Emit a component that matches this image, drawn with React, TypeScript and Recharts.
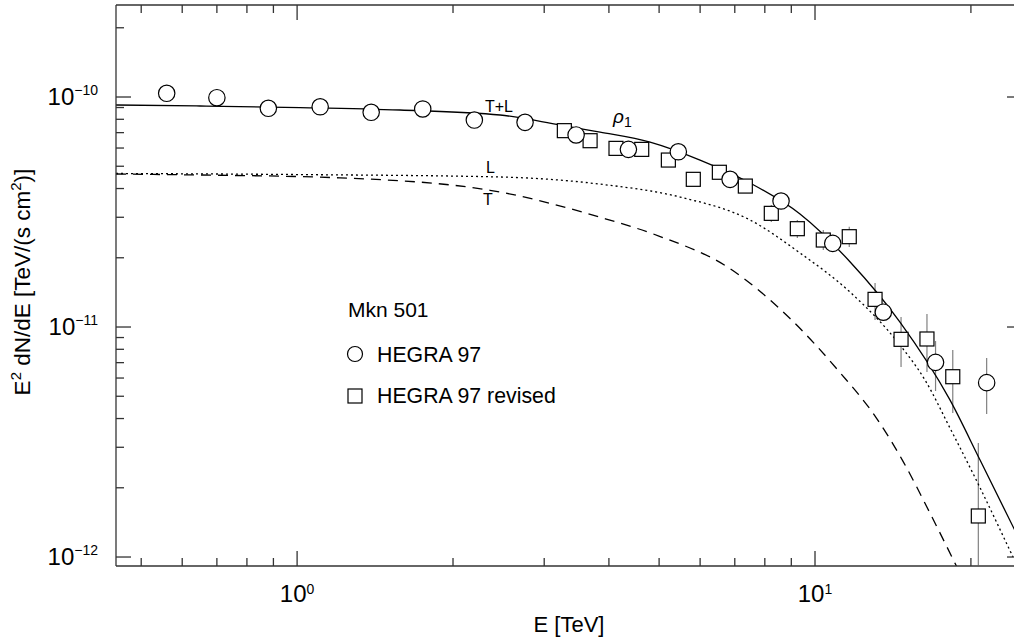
import React from 'react';
import { ComposedChart, XAxis, YAxis, Line, Scatter, ErrorBar } from 'recharts';

// HEGRA 97 (open circles)
const hegraE = [0.56, 0.7, 0.88, 1.108, 1.39, 1.748, 2.199, 2.755, 3.457, 4.362, 5.446, 6.855, 8.598, 10.82, 13.55, 17.09, 21.45];
const hegraF = [1.038e-10, 0.993e-10, 0.893e-10, 0.907e-10, 0.858e-10, 0.887e-10, 0.794e-10, 0.776e-10, 0.684e-10, 0.592e-10, 0.578e-10, 0.4386e-10, 0.353e-10, 0.231e-10, 1.16e-11, 7.02e-12, 5.73e-12];
const hegraLo = [null, null, null, null, null, null, null, null, null, null, null, null, null, null, null, 5.27e-12, 4.19e-12];
const hegraHi = [null, null, null, null, null, null, null, null, null, null, null, null, null, null, null, 8.69e-12, 7.33e-12];

// HEGRA 97 revised (open squares)
const revE = [3.281, 3.679, 4.128, 4.628, 5.21, 5.821, 6.536, 7.336, 8.234, 9.244, 10.375, 11.645, 13.06, 14.66, 16.45, 18.45, 20.67];
const revF = [0.714e-10, 0.6457e-10, 0.598e-10, 0.592e-10, 0.532e-10, 0.4386e-10, 0.4707e-10, 0.41e-10, 0.312e-10, 0.2676e-10, 0.2389e-10, 0.247e-10, 1.319e-11, 8.84e-12, 8.87e-12, 6.08e-12, 1.508e-12];
const revLo = [null, null, null, null, null, null, null, null, 2.86e-11, 2.44e-11, 2.16e-11, 2.23e-11, 1.073e-11, 6.7e-12, 6.37e-12, 4.23e-12, 9.2e-13];
const revHi = [null, null, null, null, null, null, null, null, 3.39e-11, 2.92e-11, 2.64e-11, 2.73e-11, 1.553e-11, 1.105e-11, 1.139e-11, 7.94e-12, 3.13e-12];

// model curves
const tlE = [0.447, 0.65, 1.013, 1.58, 2.466, 3.22, 3.846, 4.803, 5.998, 7.49, 9.355, 11.68, 14.59, 18.22, 20.83, 25.1];
const tlF = [0.923e-10, 0.914e-10, 0.9e-10, 0.878e-10, 0.835e-10, 0.755e-10, 0.704e-10, 0.637e-10, 0.532e-10, 0.4228e-10, 0.31e-10, 0.1923e-10, 1.051e-11, 4.82e-12, 2.64e-12, 1.13e-12];

const lE = [0.447, 1.013, 2.466, 3.846, 5.49, 7.49, 9.355, 11.68, 14.59, 16.31, 18.22, 20.83, 24.11];
const lF = [0.465e-10, 0.46e-10, 0.449e-10, 0.418e-10, 0.3673e-10, 0.292e-10, 0.2098e-10, 1.42e-11, 8.35e-12, 5.88e-12, 3.64e-12, 2.0e-12, 1.0e-12];

const tE = [0.447, 0.65, 1.211, 2.358, 3.846, 5.01, 6.76, 8.94, 11.14, 13.15, 14.8, 16.67, 18.78];
const tF = [0.4626e-10, 0.458e-10, 0.445e-10, 0.393e-10, 0.3e-10, 0.248e-10, 0.183e-10, 1.091e-11, 6.39e-12, 4.01e-12, 2.6e-12, 1.553e-12, 9.07e-13];

const xTicks = [0.5, 0.6, 0.7, 0.8, 0.9, 1, 2, 3, 4, 5, 6, 7, 8, 9, 10, 20];
const yTicks = [
  1e-12, 2e-12, 3e-12, 4e-12, 5e-12, 6e-12, 7e-12, 8e-12, 9e-12,
  1e-11, 2e-11, 3e-11, 4e-11, 5e-11, 6e-11, 7e-11, 8e-11, 9e-11,
  1e-10, 2e-10,
];

const X_DOMAIN = [0.447, 25.1];
const Y_DOMAIN = [9.14e-13, 2.512e-10];

const FONT = '"Liberation Sans", Arial, Helvetica, sans-serif';
const AXIS = '#333';

const pts = (e: number[], f: number[], lo?: (number | null)[], hi?: (number | null)[]) =>
  e.map((v, i) => ({
    e: v,
    f: f[i],
    err: [lo && lo[i] != null ? f[i] - (lo[i] as number) : 0, hi && hi[i] != null ? (hi[i] as number) - f[i] : 0],
  }));

const hegraData = pts(hegraE, hegraF, hegraLo, hegraHi);
const revData = pts(revE, revF, revLo, revHi);
const tlData = pts(tlE, tlF);
const lData = pts(lE, lF);
const tData = pts(tE, tF);

const isDecade = (v: number) => Math.abs(Math.log10(v) - Math.round(Math.log10(v))) < 1e-6;
const expText = (v: number) => String(Math.round(Math.log10(v))).replace('-', '\u2212');

const BottomTick = (props: any) => {
  const { x, y, payload } = props;
  const major = isDecade(payload.value);
  return (
    <g>
      <line x1={x} x2={x} y1={y} y2={y - (major ? 15 : 8)} stroke={AXIS} strokeWidth={1.3} />
      {major && (
        <text x={x} y={y + 36} textAnchor="middle" fontSize={24} fontFamily={FONT} fill="#000">
          10<tspan fontSize={14} dy={-8}>{expText(payload.value)}</tspan>
        </text>
      )}
    </g>
  );
};

const TopTick = (props: any) => {
  const { x, y, payload } = props;
  const major = isDecade(payload.value);
  return <line x1={x} x2={x} y1={y} y2={y + (major ? 15 : 8)} stroke={AXIS} strokeWidth={1.3} />;
};

const LeftTick = (props: any) => {
  const { x, y, payload } = props;
  const major = isDecade(payload.value);
  return (
    <g>
      <line x1={x} x2={x + (major ? 15 : 8)} y1={y} y2={y} stroke={AXIS} strokeWidth={1.3} />
      {major && (
        <text x={x - 18} y={y + 8} textAnchor="end" fontSize={24} fontFamily={FONT} fill="#000">
          10<tspan fontSize={14} dy={-10}>{expText(payload.value)}</tspan>
        </text>
      )}
    </g>
  );
};

const RightTick = (props: any) => {
  const { x, y, payload } = props;
  const major = isDecade(payload.value);
  return <line x1={x} x2={x - (major ? 15 : 8)} y1={y} y2={y} stroke={AXIS} strokeWidth={1.3} />;
};

const Circ = (p: any) => <circle cx={p.cx} cy={p.cy} r={8.2} fill="#fff" stroke="#000" strokeWidth={1.2} />;
const Sq = (p: any) => <rect x={p.cx - 7} y={p.cy - 7} width={14} height={14} fill="#fff" stroke="#000" strokeWidth={1.2} />;

export default function App() {
  return (
    <div style={{ position: 'absolute', left: 0, top: 0, width: 1014, height: 638, overflow: 'hidden', background: '#fff' }}>
      <ComposedChart width={1023} height={638} margin={{ top: 4, right: 0, bottom: 0, left: 0 }} style={{ fontFamily: FONT }}>
        <XAxis
          dataKey="e"
          type="number"
          scale="log"
          domain={X_DOMAIN}
          allowDataOverflow
          ticks={xTicks}
          interval={0}
          height={72}
          tickSize={0}
          tickMargin={0}
          tickLine={false}
          tick={<BottomTick />}
          axisLine={{ stroke: AXIS, strokeWidth: 1.3 }}
        />
        <XAxis
          xAxisId="top"
          orientation="top"
          dataKey="e"
          type="number"
          scale="log"
          domain={X_DOMAIN}
          allowDataOverflow
          ticks={xTicks}
          interval={0}
          height={1}
          tickSize={0}
          tickMargin={0}
          tickLine={false}
          tick={<TopTick />}
          axisLine={{ stroke: AXIS, strokeWidth: 1.3 }}
        />
        <YAxis
          dataKey="f"
          type="number"
          scale="log"
          domain={Y_DOMAIN}
          allowDataOverflow
          ticks={yTicks}
          interval={0}
          width={116}
          tickSize={0}
          tickMargin={0}
          tickLine={false}
          tick={<LeftTick />}
          axisLine={{ stroke: AXIS, strokeWidth: 1.3 }}
        />
        <YAxis
          yAxisId="right"
          orientation="right"
          type="number"
          scale="log"
          domain={Y_DOMAIN}
          allowDataOverflow
          ticks={yTicks}
          interval={0}
          width={1}
          tickSize={0}
          tickMargin={0}
          tickLine={false}
          tick={<RightTick />}
          axisLine={{ stroke: AXIS, strokeWidth: 1.3 }}
        />

        <Scatter data={revData} dataKey="f" shape={<Sq />} isAnimationActive={false}>
          <ErrorBar dataKey="err" direction="y" width={0} stroke="#808080" strokeWidth={1.2} />
        </Scatter>
        <Scatter data={hegraData} dataKey="f" shape={<Circ />} isAnimationActive={false}>
          <ErrorBar dataKey="err" direction="y" width={0} stroke="#808080" strokeWidth={1.2} />
        </Scatter>

        <Line data={tlData} dataKey="f" type="monotone" stroke="#000" strokeWidth={1.3} dot={false} isAnimationActive={false} />
        <Line data={lData} dataKey="f" type="monotone" stroke="#000" strokeWidth={1.3} strokeDasharray="2 3" dot={false} isAnimationActive={false} />
        <Line data={tData} dataKey="f" type="monotone" stroke="#000" strokeWidth={1.3} strokeDasharray="10 7" dot={false} isAnimationActive={false} />

        {/* curve annotations */}
        <text x={485} y={112} fontSize={16} fontFamily={FONT}>T+L</text>
        <text x={613} y={123} fontSize={19} fontFamily={FONT} fontStyle="italic">
          ρ<tspan fontSize={14} fontStyle="normal" dy={4}>1</tspan>
        </text>
        <text x={486} y={173} fontSize={16} fontFamily={FONT}>L</text>
        <text x={483} y={205} fontSize={16} fontFamily={FONT}>T</text>

        {/* legend block */}
        <text x={348} y={317} fontSize={21} fontFamily={FONT}>Mkn 501</text>
        <circle cx={355} cy={354} r={7.5} fill="#fff" stroke="#000" strokeWidth={1.2} />
        <text x={377} y={362} fontSize={21.3} fontFamily={FONT}>HEGRA 97</text>
        <rect x={348} y={389} width={14} height={14} fill="#fff" stroke="#000" strokeWidth={1.2} />
        <text x={377} y={403} fontSize={21.3} fontFamily={FONT}>HEGRA 97 revised</text>

        {/* axis titles */}
        <text x={569} y={632} textAnchor="middle" fontSize={22} fontFamily={FONT}>E [TeV]</text>
        <text transform="translate(30,282) rotate(-90)" textAnchor="middle" fontSize={22.5} fontFamily={FONT} style={{ whiteSpace: 'pre' }}>
          E<tspan fontSize={15} dy={-9}>2</tspan>
          <tspan dy={9}> dN/dE [TeV/(s cm</tspan>
          <tspan fontSize={15} dy={-9}>2</tspan>
          <tspan dy={9}>)]</tspan>
        </text>
      </ComposedChart>
    </div>
  );
}
